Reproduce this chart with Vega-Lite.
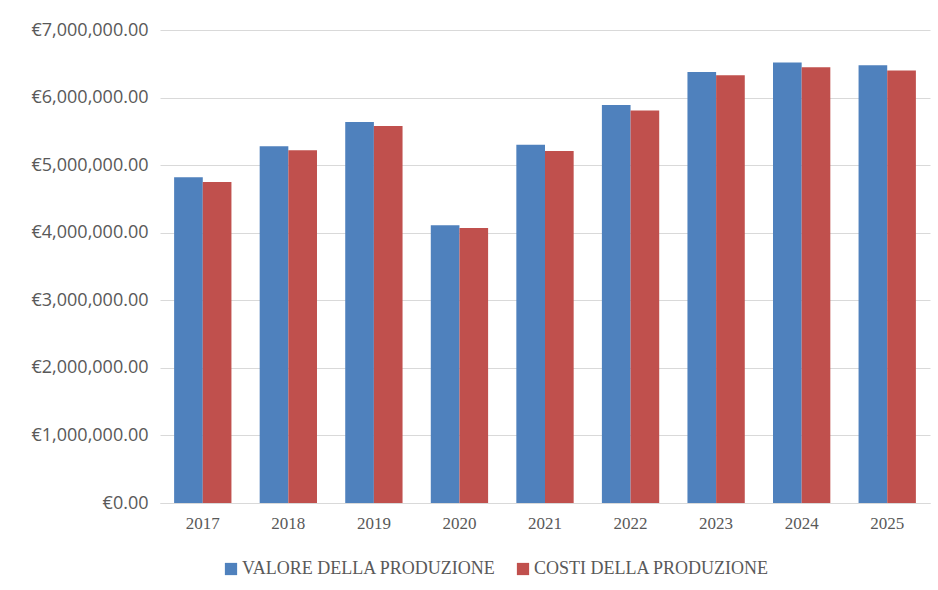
{
  "$schema": "https://vega.github.io/schema/vega-lite/v6.json",
  "width": 770,
  "height": 473,
  "autosize": {"type": "none"},
  "padding": {"left": 160, "top": 30, "right": 8, "bottom": 87},
  "background": "white",
  "data": {
    "values": [
      {"anno": "2017", "serie": "VALORE DELLA PRODUZIONE", "valore": 4820000},
      {"anno": "2017", "serie": "COSTI DELLA PRODUZIONE", "valore": 4750000},
      {"anno": "2018", "serie": "VALORE DELLA PRODUZIONE", "valore": 5280000},
      {"anno": "2018", "serie": "COSTI DELLA PRODUZIONE", "valore": 5220000},
      {"anno": "2019", "serie": "VALORE DELLA PRODUZIONE", "valore": 5640000},
      {"anno": "2019", "serie": "COSTI DELLA PRODUZIONE", "valore": 5580000},
      {"anno": "2020", "serie": "VALORE DELLA PRODUZIONE", "valore": 4110000},
      {"anno": "2020", "serie": "COSTI DELLA PRODUZIONE", "valore": 4070000},
      {"anno": "2021", "serie": "VALORE DELLA PRODUZIONE", "valore": 5300000},
      {"anno": "2021", "serie": "COSTI DELLA PRODUZIONE", "valore": 5210000},
      {"anno": "2022", "serie": "VALORE DELLA PRODUZIONE", "valore": 5890000},
      {"anno": "2022", "serie": "COSTI DELLA PRODUZIONE", "valore": 5810000},
      {"anno": "2023", "serie": "VALORE DELLA PRODUZIONE", "valore": 6380000},
      {"anno": "2023", "serie": "COSTI DELLA PRODUZIONE", "valore": 6330000},
      {"anno": "2024", "serie": "VALORE DELLA PRODUZIONE", "valore": 6520000},
      {"anno": "2024", "serie": "COSTI DELLA PRODUZIONE", "valore": 6450000},
      {"anno": "2025", "serie": "VALORE DELLA PRODUZIONE", "valore": 6480000},
      {"anno": "2025", "serie": "COSTI DELLA PRODUZIONE", "valore": 6400000}
    ]
  },
  "mark": {"type": "bar"},
  "encoding": {
    "x": {
      "field": "anno",
      "type": "nominal",
      "title": null,
      "scale": {"paddingInner": 0.33, "paddingOuter": 0.165},
      "axis": {
        "labelAngle": 0,
        "labelFont": "Liberation Serif",
        "labelFontSize": 17,
        "labelColor": "#595959",
        "labelPadding": 12,
        "ticks": false,
        "domain": true,
        "domainColor": "#D9D9D9",
        "grid": false
      }
    },
    "xOffset": {
      "field": "serie",
      "type": "nominal",
      "sort": ["VALORE DELLA PRODUZIONE", "COSTI DELLA PRODUZIONE"],
      "scale": {"paddingInner": 0, "paddingOuter": 0}
    },
    "y": {
      "field": "valore",
      "type": "quantitative",
      "title": null,
      "scale": {"domain": [0, 7000000]},
      "axis": {
        "values": [0, 1000000, 2000000, 3000000, 4000000, 5000000, 6000000, 7000000],
        "labelExpr": "'€' + format(datum.value, ',.2f')",
        "labelFont": "Open Sans",
        "labelFontSize": 18,
        "labelColor": "#595959",
        "labelPadding": 12,
        "ticks": false,
        "domain": false,
        "grid": true,
        "gridColor": "#D9D9D9",
        "gridWidth": 1
      }
    },
    "color": {
      "field": "serie",
      "type": "nominal",
      "sort": ["VALORE DELLA PRODUZIONE", "COSTI DELLA PRODUZIONE"],
      "scale": {"domain": ["VALORE DELLA PRODUZIONE", "COSTI DELLA PRODUZIONE"], "range": ["#4F81BD", "#C0504D"]},
      "legend": {
        "title": null,
        "orient": "none",
        "direction": "horizontal",
        "legendX": 62,
        "legendY": 530,
        "symbolType": "square",
        "symbolSize": 150,
        "symbolStrokeWidth": 0,
        "labelFont": "Liberation Serif",
        "labelFontSize": 18,
        "labelColor": "#595959",
        "labelOffset": 2,
        "columnPadding": 18,
        "labelLimit": 400
      }
    }
  },
  "config": {
    "view": {"stroke": null}
  }
}
